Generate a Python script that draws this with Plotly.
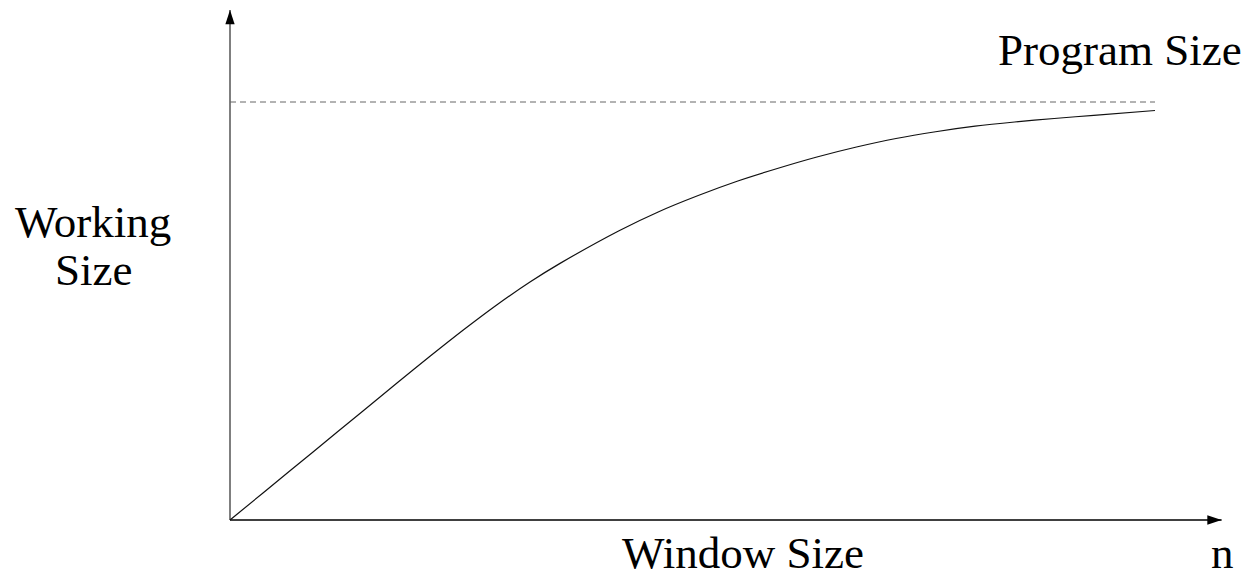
import plotly.graph_objects as go

# Data: window size (% of shown range) vs working size (% of program size)
window_size = [0, 3.60, 9.01, 14.41, 18.02, 21.62, 25.22, 28.83, 32.43, 35.68,
               42.06, 46.35, 50.62, 54.90, 59.17, 63.45, 67.73, 72.00, 76.28, 80.55,
               84.83, 89.10, 93.38, 100.0]
working_size = [0, 6.53, 16.34, 26.15, 32.70, 39.16, 45.45, 51.44, 56.94, 61.39,
                69.21, 73.76, 77.63, 81.10, 84.09, 86.84, 89.23, 91.27, 92.89, 94.21,
                95.22, 96.05, 96.82, 97.97]
program_size = 100.0
program_x = [0, 100.0]
x_axis_end = 107.2
y_axis_end = 122.0

# page body has an 8px margin: figure drawn at that offset
OFF = 8
W, H = 1249 - OFF, 577 - OFF
FONT = "Liberation Serif, Times New Roman, serif"

# data -> page pixel: px = 230 + 9.25*x ; py = 520 - 4.18*y
x_range = [-(230 - OFF) / 9.25, (1249 - 230) / 9.25]
y_range = [-(577 - 520) / 4.18, (520 - OFF) / 4.18]

fig = go.Figure()
# axes
fig.add_trace(go.Scatter(x=[0, x_axis_end], y=[0, 0], mode="lines",
                         line=dict(color="#000000", width=1.3),
                         hoverinfo="skip", showlegend=False))
fig.add_trace(go.Scatter(x=[0, 0], y=[0, y_axis_end], mode="lines",
                         line=dict(color="#555555", width=1.5),
                         hoverinfo="skip", showlegend=False))
# arrow heads
fig.add_trace(go.Scatter(x=[x_axis_end, 0], y=[0, y_axis_end], mode="markers",
                         marker=dict(symbol="arrow", size=15, angle=[90, 0], standoff=0,
                                     color="#000000", line=dict(width=0)),
                         hoverinfo="skip", showlegend=False))
# curve
fig.add_trace(go.Scatter(
    x=window_size, y=working_size, mode="lines",
    line=dict(color="#111111", width=1.2, shape="spline", smoothing=0.8),
    hoverinfo="skip", showlegend=False))
# program size
fig.add_trace(go.Scatter(
    x=program_x, y=[program_size, program_size], mode="lines",
    line=dict(color="#666666", width=1, dash="6px,4px"),
    hoverinfo="skip", showlegend=False))


def px(x):
    return (x - OFF) / W


def py(y):
    return 1 - (y - OFF) / H


def label(text, x, y):
    fig.add_annotation(x=px(x), y=py(y), xref="paper", yref="paper", text=text,
                       showarrow=False, font=dict(family=FONT, size=45, color="#000"),
                       xanchor="center", yanchor="middle")


label("Program Size", 1120, 50)
label("Working", 93, 221.5)
label("Size", 93, 270)
label("Window Size", 743, 552.5)
label("n", 1222, 553)

fig.update_xaxes(range=x_range, visible=False, fixedrange=True)
fig.update_yaxes(range=y_range, visible=False, fixedrange=True)
fig.update_layout(width=W, height=H, margin=dict(l=0, r=0, t=0, b=0),
                  plot_bgcolor="white", paper_bgcolor="white")
fig.write_html("out.html", config={"displayModeBar": False})
